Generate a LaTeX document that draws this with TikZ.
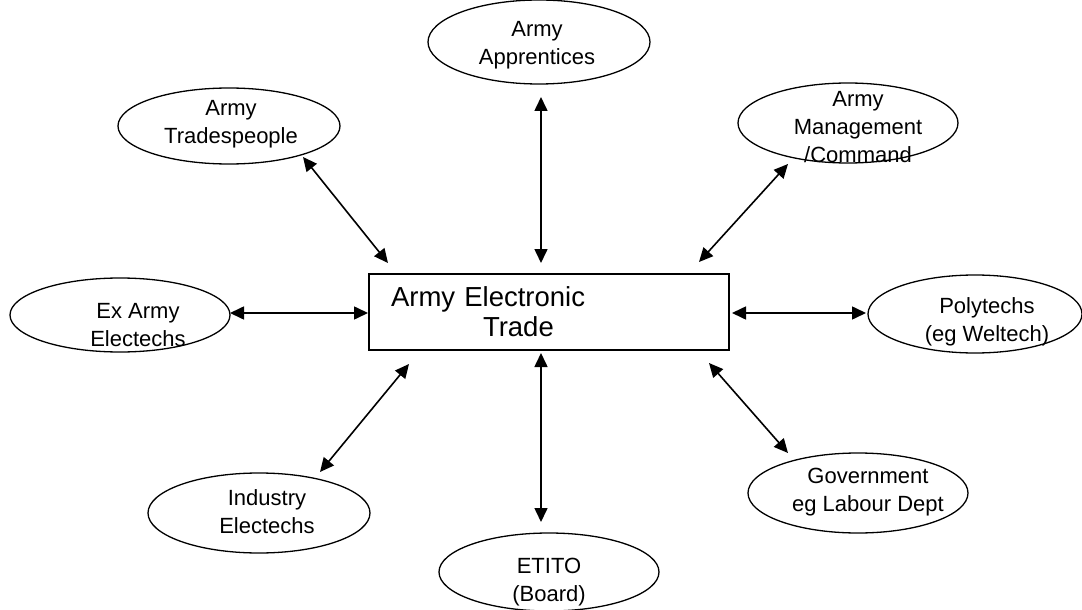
\documentclass[tikz,border=0pt]{standalone}
\usepackage{fontspec}
\setmainfont{Liberation Sans}
\usetikzlibrary{shapes.geometric, arrows.meta, calc}

\tikzset{
  party/.style={draw, ellipse, line width=0.65pt, inner sep=0pt,
    minimum width=111pt, minimum height=40pt},
  partytext/.style={align=center, font=\fontsize{11}{14}\selectfont},
  tradebox/.style={draw, rectangle, line width=0.9pt, minimum width=180pt,
    minimum height=38pt, text width=158pt, inner xsep=11pt, align=left,
    font=\fontsize{13.75}{15}\selectfont},
  link/.style={{Triangle[length=7pt,width=6.5pt]}-{Triangle[length=7pt,width=6.5pt]},
    line width=0.8pt}
}

\begin{document}
\begin{tikzpicture}[x=0.5pt, y=-0.5pt]
  \useasboundingbox (0,0) rectangle (1082,610);

  % the trade in the middle
  \node [tradebox] (trade) at (549,312) {Army Electronic\\\hspace*{46pt}Trade};

  % groups round it
  \node [party, minimum height=42pt, label={[partytext, name=apprtext, xshift=-1pt, yshift=-1.5pt]center:Army\\Apprentices}] (appr) at (539,42) {};
  \node [party, minimum height=38pt, label={[partytext, name=tradestext, xshift=1pt, yshift=1pt]center:Army\\Tradespeople}] (trades) at (229,126) {};
  \node [party, minimum width=110pt, label={[partytext, name=mgmttext, xshift=5pt, yshift=-2pt]center:Army\\Management\\/Command}] (mgmt) at (848,123) {};
  \node [party, minimum width=110pt, minimum height=37pt, label={[partytext, name=exarmytext, xshift=9pt, yshift=-5pt]center:Ex Army\\Electechs}] (exarmy) at (120,315) {};
  \node [party, minimum width=107pt, minimum height=39pt, label={[partytext, name=polytext, xshift=6pt, yshift=-4pt]center:Polytechs\\(eg Weltech)}] (poly) at (975,314) {};
  \node [party, label={[partytext, name=industext, xshift=4pt, yshift=0.5pt]center:Industry\\Electechs}] (indus) at (259,513) {};
  \node [party, minimum width=110pt, label={[partytext, name=govttext, xshift=5pt, yshift=0.5pt]center:Government\\eg Labour Dept}] (govt) at (858,493) {};
  \node [party, minimum width=110pt, minimum height=39pt, label={[partytext, name=etitotext, yshift=-5pt]center:ETITO\\(Board)}] (etito) at (549,572) {};

  % links
  \draw [link] ($(appr.center)+(2,55)$) -- ($(trade.center)+(-8,-49)$);
  \draw [link] ($(trades.center)+(74,31)$) -- ($(trade.center)+(-161,-49)$);
  \draw [link] ($(mgmt.center)+(-60,41)$) -- ($(trade.center)+(150,-50)$);
  \draw [link] ($(exarmy.center)+(110,-2)$) -- ($(trade.center)+(-181,1)$);
  \draw [link] ($(poly.center)+(-109,-1)$) -- ($(trade.center)+(183,1)$);
  \draw [link] ($(indus.center)+(61,-41)$) -- ($(trade.center)+(-140,52)$);
  \draw [link] ($(govt.center)+(-70,-40)$) -- ($(trade.center)+(160,51)$);
  \draw [link] ($(etito.center)+(-8,-50)$) -- ($(trade.center)+(-8,41)$);
\end{tikzpicture}
\end{document}
